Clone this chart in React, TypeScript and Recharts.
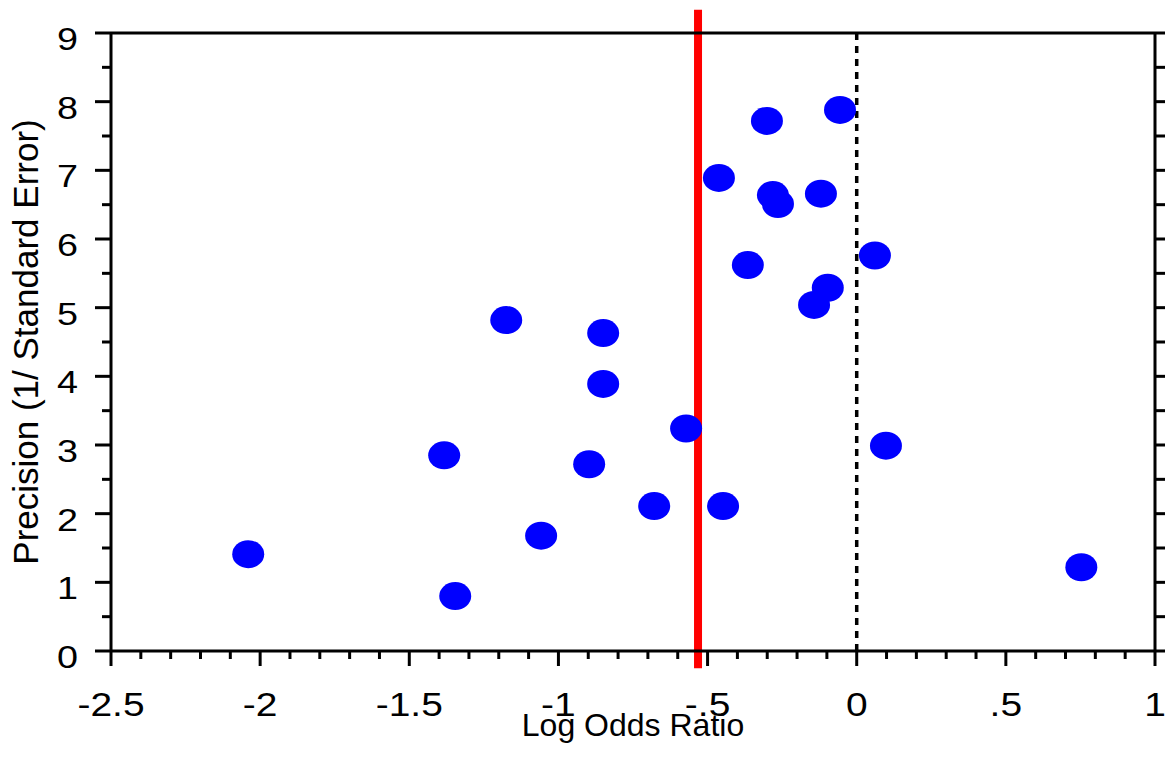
import {
  ScatterChart,
  Scatter,
  XAxis,
  YAxis,
  ReferenceLine,
} from "recharts";

// funnel plot: precision vs log odds ratio, pooled estimate in red

const logOdds = [
  -2.04, -1.346, -1.383, -1.175, -1.058, -0.897, -0.85, -0.85, -0.679, -0.572,
  -0.448, -0.462, -0.301, -0.365, -0.281, -0.264, -0.143, -0.12, -0.097, -0.056,
  0.061, 0.098, 0.753,
];
const precision = [
  1.41, 0.8, 2.85, 4.82, 1.68, 2.72, 4.63, 3.89, 2.11, 3.24,
  2.11, 6.89, 7.72, 5.62, 6.64, 6.51, 5.04, 6.66, 5.29, 7.88,
  5.76, 2.99, 1.22,
];
const pooled = -0.532;

const xTicks = [
  -2.5, -2.4, -2.3, -2.2, -2.1, -2, -1.9, -1.8, -1.7, -1.6, -1.5, -1.4,
  -1.3, -1.2, -1.1, -1, -0.9, -0.8, -0.7, -0.6, -0.5, -0.4, -0.3, -0.2,
  -0.1, 0, 0.1, 0.2, 0.3, 0.4, 0.5, 0.6, 0.7, 0.8, 0.9, 1,
];
const yTicks = [
  0, 0.5, 1, 1.5, 2, 2.5, 3, 3.5, 4, 4.5, 5, 5.5, 6, 6.5, 7, 7.5, 8, 8.5, 9,
];

const points = logOdds.map((x, i) => ({ x, y: precision[i] }));

const FONT = '"Liberation Sans", Arial, sans-serif';

const isMajor = (v: number, step: number) =>
  Math.abs(v / step - Math.round(v / step)) < 1e-6;

const fmt = (v: number) => {
  const r = Math.round(v * 10) / 10;
  return String(r).replace("0.", ".");
};

// the original's digits are a bit wider than Liberation Sans
const WideText = ({ x, y, anchor, size, children }: any) => (
  <text
    transform={`translate(${x},${y}) scale(1.18,1)`}
    textAnchor={anchor}
    fontSize={size}
    fontFamily={FONT}
    fill="#000"
  >
    {children}
  </text>
);

const BottomTick = ({ x, y, payload }: any) => {
  const major = isMajor(payload.value, 0.5);
  return (
    <g>
      <line x1={x} x2={x} y1={y} y2={y + (major ? 15 : 8)} stroke="#000" strokeWidth={3} />
      {major && (
        <WideText x={x} y={y + 65} anchor="middle" size={33}>
          {fmt(payload.value)}
        </WideText>
      )}
    </g>
  );
};

const TopTick = ({ x, y, payload }: any) => {
  const major = isMajor(payload.value, 0.5);
  return <line x1={x} x2={x} y1={y} y2={y - (major ? 13 : 6)} stroke="#000" strokeWidth={3} />;
};

const LeftTick = ({ x, y, payload }: any) => {
  const major = isMajor(payload.value, 1);
  return (
    <g>
      <line x1={x - (major ? 16 : 9)} x2={x} y1={y} y2={y} stroke="#000" strokeWidth={3} />
      {major && (
        <WideText x={x - 33} y={y + 17} anchor="end" size={32}>
          {fmt(payload.value)}
        </WideText>
      )}
    </g>
  );
};

const RightTick = ({ x, y }: any) => (
  <line x1={x} x2={x + 12} y1={y} y2={y} stroke="#000" strokeWidth={3} />
);

const Dot = (p: any) => <ellipse cx={p.cx} cy={p.cy} rx={16} ry={14} fill="#0000ff" />;

export default function App() {
  return (
    <div style={{ position: "absolute", left: 0, top: 0, background: "#fff" }}>
      <ScatterChart width={1165} height={765} margin={{ top: 0, right: 0, bottom: 0, left: 0 }}>
        <XAxis
          dataKey="x"
          type="number"
          domain={[-2.5, 1]}
          ticks={xTicks}
          interval={0}
          allowDataOverflow
          height={114}
          tickLine={false}
          tickSize={0}
          tickMargin={0}
          axisLine={{ stroke: "#000", strokeWidth: 3 }}
          tick={<BottomTick />}
          label={({ viewBox }: any) => (
            <text
              x={viewBox.x + viewBox.width / 2}
              y={viewBox.y + 85}
              textAnchor="middle"
              fontSize={32}
              fontFamily={FONT}
              fill="#000"
            >
              Log Odds Ratio
            </text>
          )}
        />
        <XAxis
          xAxisId="top"
          orientation="top"
          type="number"
          domain={[-2.5, 1]}
          ticks={xTicks}
          interval={0}
          allowDataOverflow
          height={33}
          tickLine={false}
          tickSize={0}
          tickMargin={0}
          axisLine={{ stroke: "#000", strokeWidth: 3 }}
          tick={<TopTick />}
        />
        <YAxis
          dataKey="y"
          type="number"
          domain={[0, 9]}
          ticks={yTicks}
          interval={0}
          allowDataOverflow
          width={111}
          tickLine={false}
          tickSize={0}
          tickMargin={0}
          axisLine={{ stroke: "#000", strokeWidth: 3 }}
          tick={<LeftTick />}
          label={({ viewBox }: any) => {
            const cx = viewBox.x + 38;
            const cy = viewBox.y + viewBox.height / 2;
            return (
              <text
                x={cx}
                y={cy}
                transform={`rotate(-90, ${cx}, ${cy})`}
                textAnchor="middle"
                fontSize={35}
                fontFamily={FONT}
                fill="#000"
              >
                Precision (1/ Standard Error)
              </text>
            );
          }}
        />
        <YAxis
          yAxisId="right"
          orientation="right"
          type="number"
          domain={[0, 9]}
          ticks={yTicks}
          interval={0}
          allowDataOverflow
          width={10}
          tickLine={false}
          tickSize={0}
          tickMargin={0}
          axisLine={{ stroke: "#000", strokeWidth: 3 }}
          tick={<RightTick />}
        />
        <Scatter data={points} shape={<Dot />} isAnimationActive={false} />
        <ReferenceLine x={0} stroke="#000" strokeWidth={3.5} strokeDasharray="7 6" />
        <ReferenceLine
          segment={[
            { x: pooled, y: -0.25 },
            { x: pooled, y: 9.34 },
          ]}
          ifOverflow="visible"
          stroke="#ff0000"
          strokeWidth={8}
        />
      </ScatterChart>
    </div>
  );
}
